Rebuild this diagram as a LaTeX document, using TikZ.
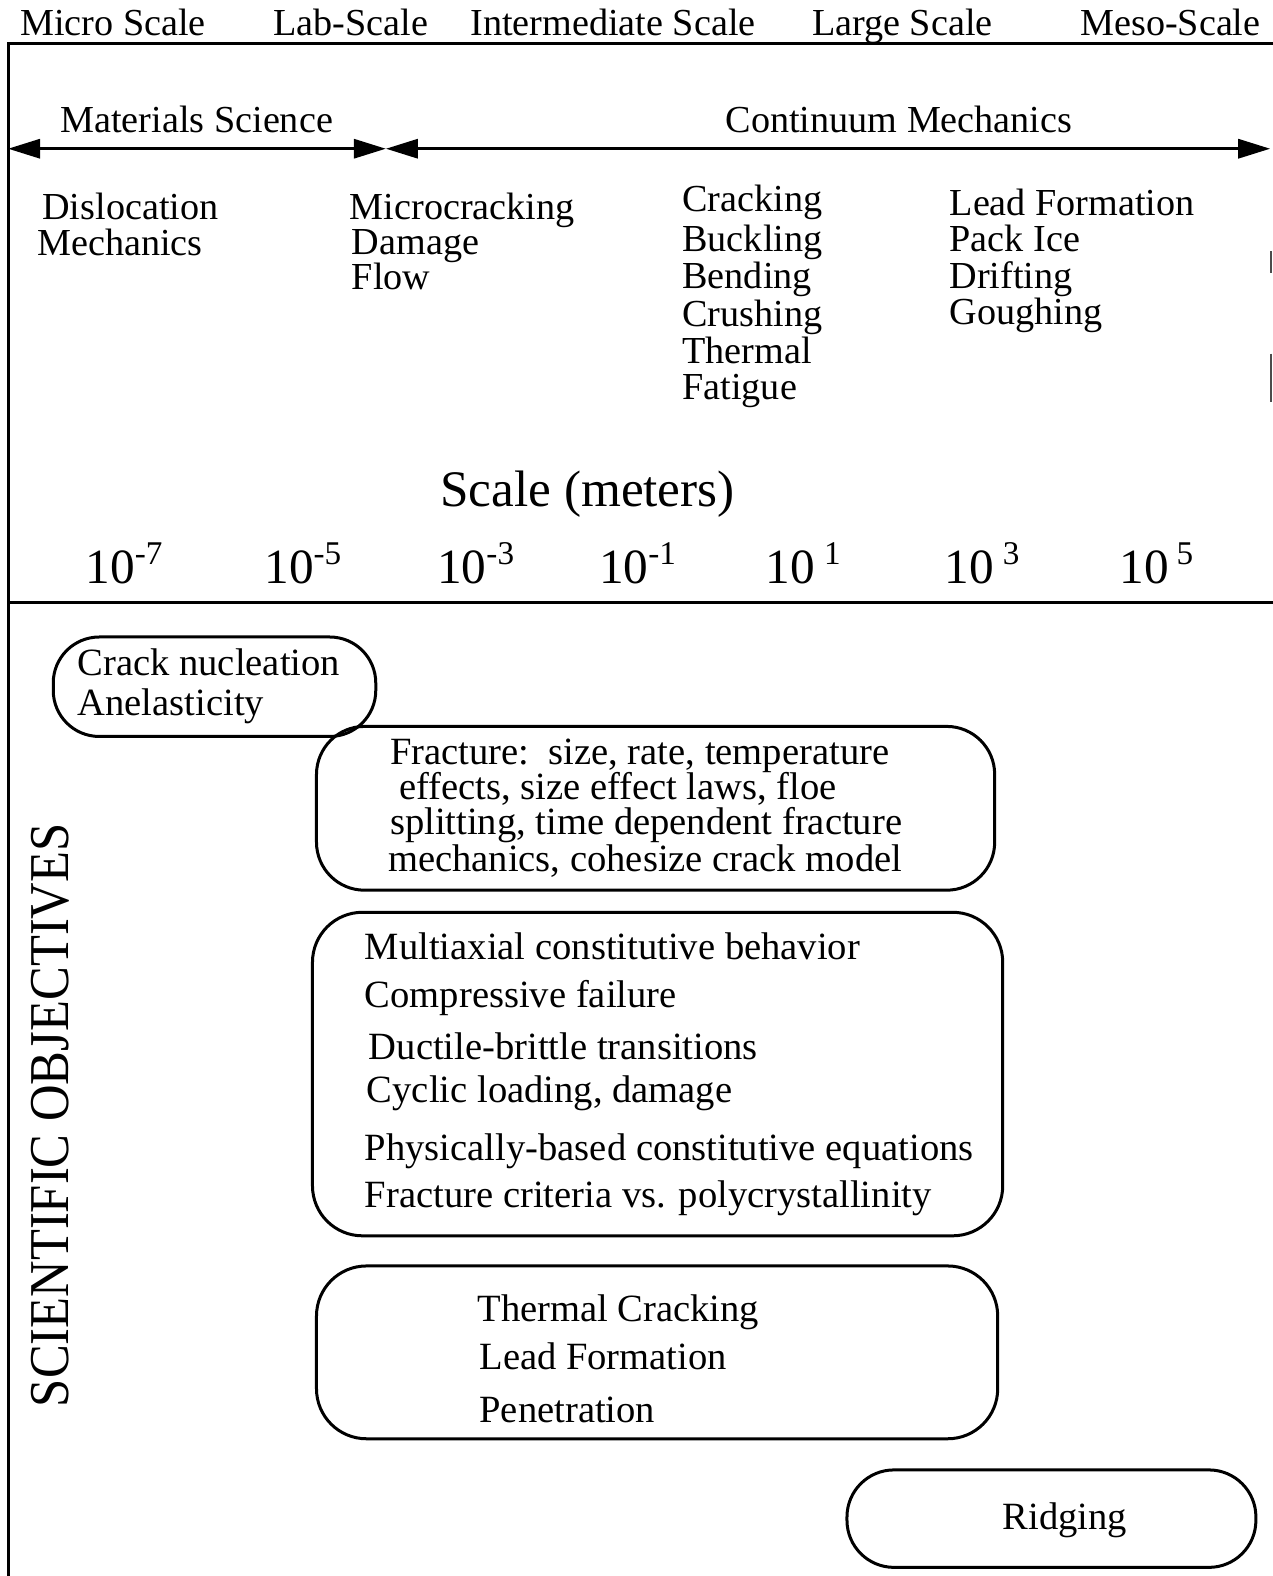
\documentclass[tikz,border=0pt]{standalone}
\usepackage{fontspec}
\setmainfont{Liberation Serif}
\usetikzlibrary{arrows.meta}
\newcommand{\txtsz}{\fontsize{38}{40}\selectfont}
\newcommand{\boxsz}{\fontsize{38.4}{40}\selectfont}
\newcommand{\pw}[2]{#1\raisebox{19pt}{\fontsize{33}{33}\selectfont #2}}
\begin{document}
\begin{tikzpicture}[x=1pt,y=-1pt,scale=1.0047,transform shape,
  frame/.style={line width=3pt},
  span/.style={line width=3.2pt,
    arrows={Triangle[length=32pt,width=19pt]-Triangle[length=32pt,width=19pt]}},
  txt/.style={anchor=base west, inner sep=0pt, font=\txtsz},
  btxt/.style={anchor=base west, inner sep=0pt, font=\boxsz},
  tick/.style={anchor=base west, inner sep=0pt, font=\fontsize{49}{50}\selectfont},
  obj/.style={draw, line width=3pt, rounded corners=#1, inner sep=0pt}]
\useasboundingbox (0,0) rectangle (1267,1568.6);

% frame lines
\coordinate (tl) at (8,43);
\coordinate (tr) at (1267,43);
\coordinate (bl) at (8,1568.6);
\coordinate (ml) at (8,600);
\coordinate (mr) at (1267,600);
\draw[frame] (tr) -- (tl) -- (bl);
\draw[frame] (ml) -- (mr);
\draw[line width=1.5pt, black!70] (1265,250) -- (1265,272);
\draw[line width=1.5pt, black!70] (1265,352) -- (1265,400);

% scale names
\node[txt] (micro) at (20,35) {Micro Scale};
\node[txt] (lab) at (272,35) {Lab-Scale};
\node[txt] (inter) at (468,35) {Intermediate Scale};
\node[txt] (large) at (808,35) {Large Scale};
\node[txt] (meso) at (1075,35) {Meso-Scale};

% disciplines
\node[txt] (matsci) at (60,132) {Materials Science};
\node[txt] (contmech) at (722,132) {Continuum Mechanics};
\coordinate (msA) at (8,148);
\coordinate (msB) at (384,148);
\coordinate (cmA) at (384,148);
\coordinate (cmB) at (1264,148);
\draw[span] (msA) -- (msB);
\draw[span] (cmA) -- (cmB);

% phenomena
\node[txt] (p1a) at (42,218) {Dislocation};
\node[txt] (p1b) at (37,254) {Mechanics};
\node[txt] (p2a) at (348,218) {Microcracking};
\node[txt] (p2b) at (350,253) {Damage};
\node[txt] (p2c) at (350,288) {Flow};
\node[txt] (p3a) at (679,211) {Cracking};
\node[txt] (p3b) at (679,250) {Buckling};
\node[txt] (p3c) at (679,287) {Bending};
\node[txt] (p3d) at (679,325) {Crushing};
\node[txt] (p3e) at (679,362) {Thermal};
\node[txt] (p3f) at (679,398) {Fatigue};
\node[txt] (p4a) at (945,214) {Lead Formation};
\node[txt] (p4b) at (945,250) {Pack Ice};
\node[txt] (p4c) at (945,287) {Drifting};
\node[txt] (p4d) at (945,323) {Goughing};

% scale axis
\node[anchor=base west, inner sep=0pt, font=\fontsize{51}{52}\selectfont] (scale) at (438,504) {Scale (meters)};
\node[tick] (t1) at (85,581) {\pw{10}{-7}};
\node[tick] (t2) at (263,581) {\pw{10}{-5}};
\node[tick] (t3) at (435,581) {\pw{10}{-3}};
\node[tick] (t4) at (596,581) {\pw{10}{-1}};
\node[tick] (t5) at (762,581) {\pw{10\hspace{9pt}}{1}};
\node[tick] (t6) at (940,581) {\pw{10\hspace{9pt}}{3}};
\node[tick] (t7) at (1114,581) {\pw{10\hspace{8pt}}{5}};

% objectives
\node[rotate=90, inner sep=0pt, font=\fontsize{56}{56}\selectfont] (sciobj) at (50,1110)
  {\scalebox{0.9}[1]{SCIENTIFIC OBJECTIVES}};

\node[obj=46, minimum width=321pt, minimum height=99pt] (bcrack) at (213.5,683.5) {};
\node[obj=48, minimum width=675pt, minimum height=163pt] (bfract) at (652.5,804.5) {};
\node[obj=50, minimum width=687pt, minimum height=322pt] (bmulti) at (654.5,1069) {};
\node[obj=50, minimum width=678pt, minimum height=172pt] (btherm) at (654,1346) {};
\node[obj=47, minimum width=407pt, minimum height=97pt] (bridge) at (1046.5,1511.5) {};

\node[btxt] (o1a) at (77,672) {Crack nucleation};
\node[btxt] (o1b) at (77,712) {Anelasticity};

\node[btxt] (o2a) at (388,761) {Fracture:\ \ size, rate, temperature};
\node[btxt] (o2b) at (397,796) {effects, size effect laws, floe};
\node[btxt] (o2c) at (388,831) {splitting, time dependent fracture};
\node[btxt] (o2d) at (386,867) {mechanics, cohesize crack model};

\node[btxt] (o3a) at (363,955) {Multiaxial constitutive behavior};
\node[btxt] (o3b) at (363,1003) {Compressive failure};
\node[btxt] (o3c) at (367,1055) {Ductile-brittle transitions};
\node[btxt] (o3d) at (365,1097) {Cyclic loading, damage};
\node[btxt] (o3e) at (363,1155) {Physically-based constitutive equations};
\node[btxt] (o3f) at (363,1202) {Fracture criteria vs. polycrystallinity};

\node[btxt] (o4a) at (475,1315) {Thermal Cracking};
\node[btxt] (o4b) at (477,1363) {Lead Formation};
\node[btxt] (o4c) at (477,1416) {Penetration};

\node[anchor=base, inner sep=0pt, font=\boxsz] (o5) at (1060,1522) {Ridging};
\end{tikzpicture}
\end{document}
